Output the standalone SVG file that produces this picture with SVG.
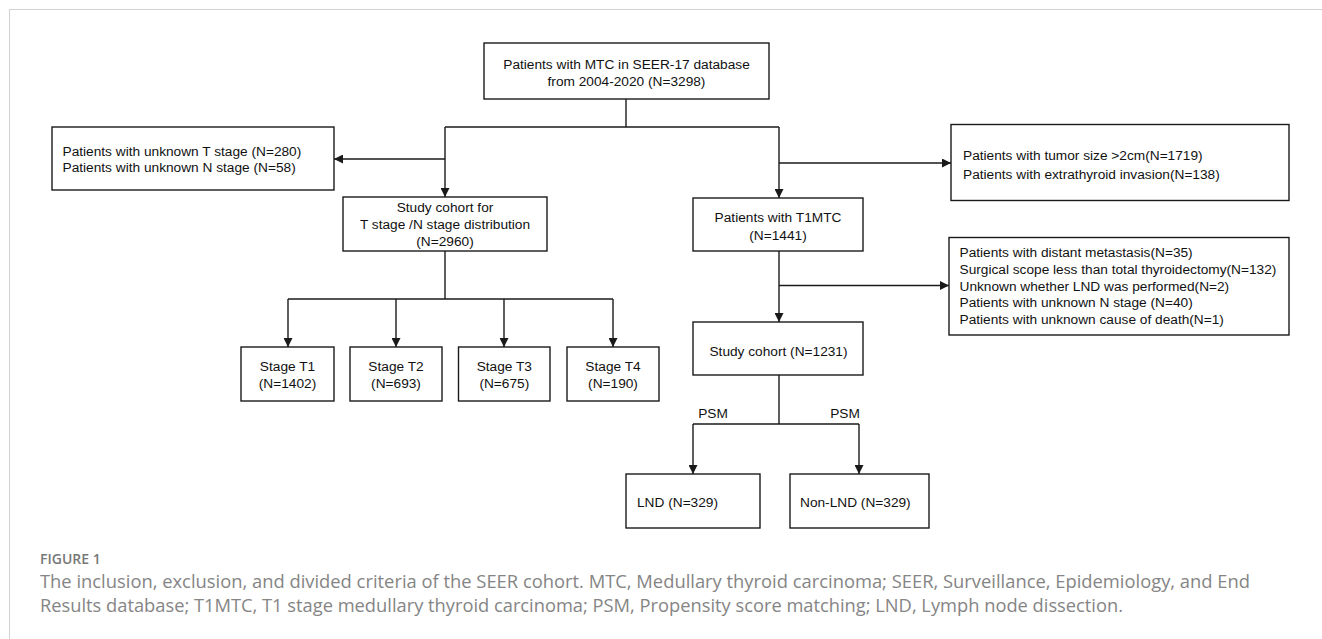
<svg xmlns="http://www.w3.org/2000/svg" width="1322" height="639" viewBox="0 0 1322 639">
<style>
.box{fill:#fff;stroke:#1a1a1a;stroke-width:1.4}
.t{font-family:"Liberation Sans",Arial,sans-serif;font-size:13.7px;fill:#111}
.c{text-anchor:middle}
.ln{fill:none;stroke:#1a1a1a;stroke-width:1.4}
.cap{font-family:"Open Sans","Noto Sans",sans-serif;font-size:18px;fill:#858585}
.fig{font-family:"Open Sans","Noto Sans",sans-serif;font-size:14px;font-weight:600;fill:#777}
</style>
<defs>
<marker id="ah" viewBox="0 0 10 10" refX="10" refY="5" markerWidth="9" markerHeight="9" markerUnits="userSpaceOnUse" orient="auto">
<path d="M0,0 L10,5 L0,10 z" fill="#1a1a1a"/>
</marker>
</defs>
<rect x="9.5" y="9.5" width="1330" height="640" fill="#fff" stroke="#d2d2d2" stroke-width="1"/>

<g id="connectors">
<line class="ln" x1="626" y1="99" x2="626" y2="127"/>
<line class="ln" x1="445" y1="127" x2="779" y2="127"/>
<line class="ln" x1="445" y1="127" x2="445" y2="197" marker-end="url(#ah)"/>
<line class="ln" x1="445" y1="159" x2="334" y2="159" marker-end="url(#ah)"/>
<line class="ln" x1="779" y1="127" x2="779" y2="198" marker-end="url(#ah)"/>
<line class="ln" x1="779" y1="163" x2="951" y2="163" marker-end="url(#ah)"/>
<line class="ln" x1="445" y1="251" x2="445" y2="299"/>
<line class="ln" x1="288" y1="299" x2="613" y2="299"/>
<line class="ln" x1="288" y1="299" x2="288" y2="347" marker-end="url(#ah)"/>
<line class="ln" x1="396" y1="299" x2="396" y2="347" marker-end="url(#ah)"/>
<line class="ln" x1="504" y1="299" x2="504" y2="347" marker-end="url(#ah)"/>
<line class="ln" x1="613" y1="299" x2="613" y2="347" marker-end="url(#ah)"/>
<line class="ln" x1="779" y1="251" x2="779" y2="322" marker-end="url(#ah)"/>
<line class="ln" x1="779" y1="285.5" x2="949" y2="285.5" marker-end="url(#ah)"/>
<line class="ln" x1="779" y1="375" x2="779" y2="424"/>
<line class="ln" x1="693" y1="424" x2="859" y2="424"/>
<line class="ln" x1="693" y1="424" x2="693" y2="474" marker-end="url(#ah)"/>
<line class="ln" x1="859" y1="424" x2="859" y2="474" marker-end="url(#ah)"/>
<text class="t c" x="713" y="418">PSM</text>
<text class="t c" x="845" y="418">PSM</text>
</g>

<g id="n-top">
<rect class="box" x="484" y="43" width="285" height="56"/>
<text class="t c" x="626.5" y="69">Patients with MTC in SEER-17 database</text>
<text class="t c" x="626.5" y="86">from 2004-2020 (N=3298)</text>
</g>

<g id="n-excl-left">
<rect class="box" x="52" y="127" width="282" height="63"/>
<text class="t" x="62.5" y="155.5">Patients with unknown T stage (N=280)</text>
<text class="t" x="62.5" y="171.5">Patients with unknown N stage (N=58)</text>
</g>

<g id="n-study-tn">
<rect class="box" x="343" y="197" width="204" height="54"/>
<text class="t c" x="445" y="212">Study cohort for</text>
<text class="t c" x="445" y="229">T stage /N stage distribution</text>
<text class="t c" x="445" y="245.5">(N=2960)</text>
</g>

<g id="n-t1">
<rect class="box" x="241" y="347" width="93" height="54"/>
<text class="t c" x="287.5" y="371">Stage T1</text>
<text class="t c" x="287.5" y="388">(N=1402)</text>
</g>
<g id="n-t2">
<rect class="box" x="350" y="347" width="92" height="54"/>
<text class="t c" x="396" y="371">Stage T2</text>
<text class="t c" x="396" y="388">(N=693)</text>
</g>
<g id="n-t3">
<rect class="box" x="458.5" y="347" width="91.5" height="54"/>
<text class="t c" x="504.3" y="371">Stage T3</text>
<text class="t c" x="504.3" y="388">(N=675)</text>
</g>
<g id="n-t4">
<rect class="box" x="567" y="347" width="92" height="54"/>
<text class="t c" x="613" y="371">Stage T4</text>
<text class="t c" x="613" y="388">(N=190)</text>
</g>

<g id="n-excl-right1">
<rect class="box" x="951" y="124.5" width="338" height="76"/>
<text class="t" x="963" y="160">Patients with tumor size &gt;2cm(N=1719)</text>
<text class="t" x="963" y="179">Patients with extrathyroid invasion(N=138)</text>
</g>

<g id="n-t1mtc">
<rect class="box" x="693" y="198" width="170" height="53"/>
<text class="t c" x="778" y="221.5">Patients with T1MTC</text>
<text class="t c" x="778" y="239.5">(N=1441)</text>
</g>

<g id="n-excl-right2">
<rect class="box" x="949" y="237.5" width="340" height="97.5"/>
<text class="t" x="959.5" y="257">Patients with distant metastasis(N=35)</text>
<text class="t" x="959.5" y="274">Surgical scope less than total thyroidectomy(N=132)</text>
<text class="t" x="959.5" y="290.5">Unknown whether LND was performed(N=2)</text>
<text class="t" x="959.5" y="307">Patients with unknown N stage (N=40)</text>
<text class="t" x="959.5" y="323.5">Patients with unknown cause of death(N=1)</text>
</g>

<g id="n-study">
<rect class="box" x="693" y="322" width="170" height="53"/>
<text class="t c" x="778.5" y="355.5">Study cohort (N=1231)</text>
</g>

<g id="n-lnd">
<rect class="box" x="626" y="474" width="134" height="54"/>
<text class="t" x="637" y="506.5">LND (N=329)</text>
</g>
<g id="n-nonlnd">
<rect class="box" x="790" y="474" width="139" height="54"/>
<text class="t" x="800" y="506.5">Non-LND (N=329)</text>
</g>

<g id="caption">
<text class="fig" x="40" y="564">FIGURE 1</text>
<text class="cap" x="40" y="588" textLength="1210" lengthAdjust="spacingAndGlyphs">The inclusion, exclusion, and divided criteria of the SEER cohort. MTC, Medullary thyroid carcinoma; SEER, Surveillance, Epidemiology, and End</text>
<text class="cap" x="40" y="611.5" textLength="1083" lengthAdjust="spacingAndGlyphs">Results database; T1MTC, T1 stage medullary thyroid carcinoma; PSM, Propensity score matching; LND, Lymph node dissection.</text>
</g>
</svg>
